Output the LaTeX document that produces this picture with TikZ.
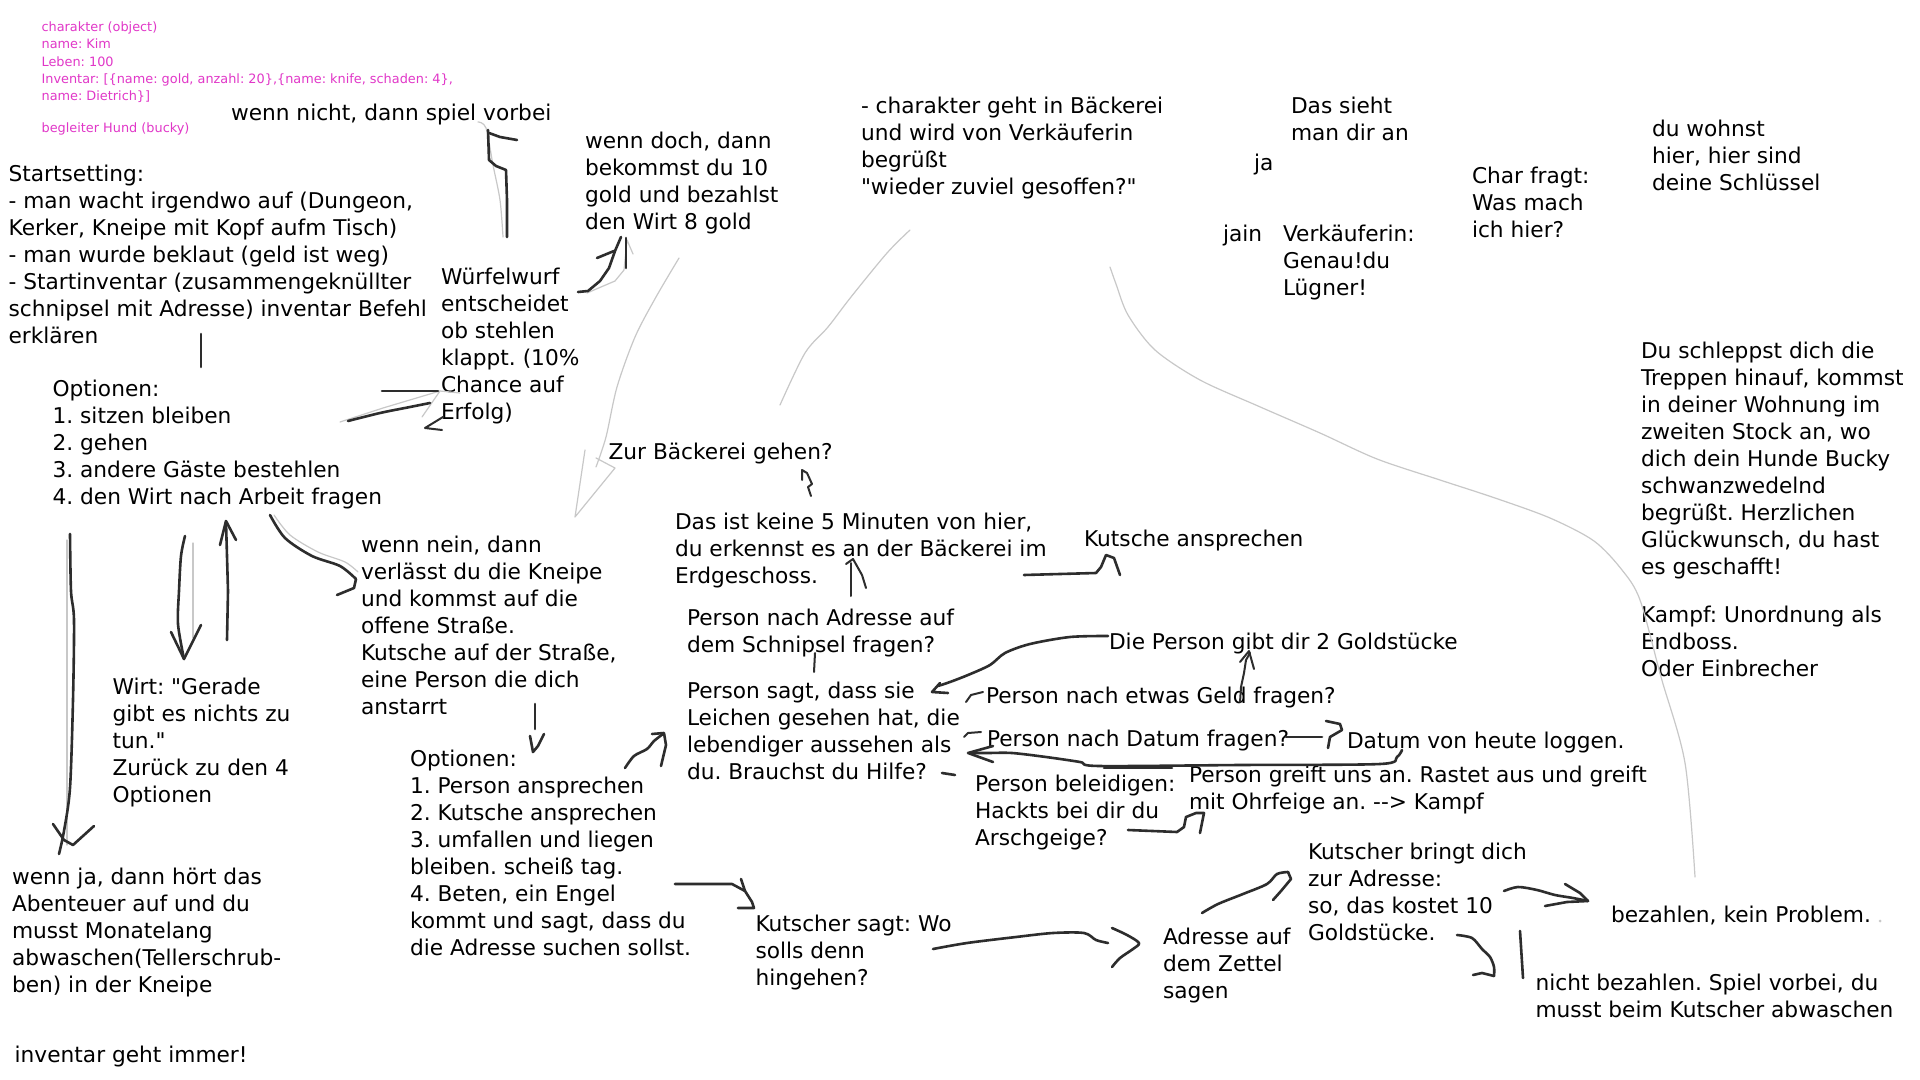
\documentclass[tikz,border=0pt]{standalone}
\usepackage{fontspec}
\newfontfamily\dejav{DejaVu Sans}
\definecolor{pinkc}{RGB}{225,55,200}
\definecolor{inkc}{RGB}{45,45,45}
\definecolor{faintc}{RGB}{200,200,200}
\newcommand\tfnt{\dejav\frenchspacing\fontsize{10.85pt}{13.5pt}\selectfont}
\newcommand\pfnt{\dejav\frenchspacing\fontsize{6.43pt}{8.7pt}\selectfont}
\tikzset{
  txt/.style={anchor=north west, inner sep=0pt, outer sep=0pt, align=left, font=\tfnt, execute at begin node=\strut},
  ptxt/.style={txt, font=\pfnt, text=pinkc},
  ink/.style={draw=inkc, line width=1.3pt, line cap=round, line join=round},
  thinink/.style={ink, line width=1pt},
  faint/.style={draw=faintc, line width=0.6pt, line cap=round, line join=round},
}
\begin{document}
\begin{tikzpicture}[x=0.5pt,y=-0.5pt]
\fill[white] (0,0) rectangle (1920,1080);
\useasboundingbox (0,0) rectangle (1920,1080);

% ---------- texts ----------
\node[ptxt] (obj) at (41.6,21.5) {charakter (object)\\name: Kim\\Leben: 100\\Inventar: [\{name: gold, anzahl: 20\},\{name: knife, schaden: 4\},\\name: Dietrich\}]};
\node[ptxt] (hund) at (41.6,120.3) {begleiter Hund (bucky)};

\node[txt] (vorbei) at (231,102) {wenn nicht, dann spiel vorbei};
\node[txt] (start) at (8.6,165.5) {Startsetting:\\- man wacht irgendwo auf (Dungeon,\\Kerker, Kneipe mit Kopf aufm Tisch)\\- man wurde beklaut (geld ist weg)\\- Startinventar (zusammengeknüllter\\schnipsel mit Adresse) inventar Befehl\\erklären};
\node[txt] (doch) at (585,132.5) {wenn doch, dann\\bekommst du 10\\gold und bezahlst\\den Wirt 8 gold};
\node[txt] (baeck) at (861,97.5) {- charakter geht in Bäckerei\\und wird von Verkäuferin\\begrüßt\\"wieder zuviel gesoffen?"};
\node[txt] (ja) at (1254,151.5) {ja};
\node[txt] (sieht) at (1291,97.5) {Das sieht\\man dir an};
\node[txt] (jain) at (1223,222.5) {jain};
\node[txt] (verk) at (1283,225.5) {Verkäuferin:\\Genau!du\\Lügner!};
\node[txt] (char) at (1472,167.5) {Char fragt:\\Was mach\\ich hier?};
\node[txt] (wohnst) at (1652,120.5) {du wohnst\\hier, hier sind\\deine Schlüssel};
\node[txt] (wurf) at (441,268.5) {Würfelwurf\\entscheidet\\ob stehlen\\klappt. (10\%\\Chance auf\\Erfolg)};
\node[txt] (opt1) at (52.6,380.5) {Optionen:\\1. sitzen bleiben\\2. gehen\\3. andere Gäste bestehlen\\4. den Wirt nach Arbeit fragen};
\node[txt] (zur) at (608.6,440.5) {Zur Bäckerei gehen?};
\node[txt] (fuenf) at (675,513.5) {Das ist keine 5 Minuten von hier,\\du erkennst es an der Bäckerei im\\Erdgeschoss.};
\node[txt] (kutsche) at (1084,527.5) {Kutsche ansprechen};
\node[txt] (ende) at (1641,342.5) {Du schleppst dich die\\Treppen hinauf, kommst\\in deiner Wohnung im\\zweiten Stock an, wo\\dich dein Hunde Bucky\\schwanzwedelnd\\begrüßt. Herzlichen\\Glückwunsch, du hast\\es geschafft!};
\node[txt] (kampf) at (1641,606.5) {Kampf: Unordnung als\\Endboss.\\Oder Einbrecher};
\node[txt] (nein) at (361,536.5) {wenn nein, dann\\verlässt du die Kneipe\\und kommst auf die\\offene Straße.\\Kutsche auf der Straße,\\eine Person die dich\\anstarrt};
\node[txt] (adr) at (687,609.5) {Person nach Adresse auf\\dem Schnipsel fragen?};
\node[txt] (gibt) at (1109,630.5) {Die Person gibt dir 2 Goldstücke};
\node[txt] (wirt) at (112.6,678.5) {Wirt: "Gerade\\gibt es nichts zu\\tun."\\Zurück zu den 4\\Optionen};
\node[txt] (sagt) at (687,682.5) {Person sagt, dass sie\\Leichen gesehen hat, die\\lebendiger aussehen als\\du. Brauchst du Hilfe?};
\node[txt] (geld) at (986,684.5) {Person nach etwas Geld fragen?};
\node[txt] (datum) at (987,727.5) {Person nach Datum fragen?};
\node[txt] (loggen) at (1347,729.5) {Datum von heute loggen.};
\node[txt] (opt2) at (410,750.5) {Optionen:\\1. Person ansprechen\\2. Kutsche ansprechen\\3. umfallen und liegen\\bleiben. scheiß tag.\\4. Beten, ein Engel\\kommt und sagt, dass du\\die Adresse suchen sollst.};
\node[txt] (beleid) at (975,775.5) {Person beleidigen:\\Hackts bei dir du\\Arschgeige?};
\node[txt] (greift) at (1189,766.5) {Person greift uns an. Rastet aus und greift\\mit Ohrfeige an. --> Kampf};
\node[txt] (bringt) at (1308,843.5) {Kutscher bringt dich\\zur Adresse:\\so, das kostet 10\\Goldstücke.};
\node[txt] (jaende) at (12,868.5) {wenn ja, dann hört das\\Abenteuer auf und du\\musst Monatelang\\abwaschen(Tellerschrub-\\ben) in der Kneipe};
\node[txt] (bez) at (1611,903.5) {bezahlen, kein Problem.};
\node[txt] (wo) at (755.5,915.5) {Kutscher sagt: Wo\\solls denn\\hingehen?};
\node[txt] (zettel) at (1163,928.5) {Adresse auf\\dem Zettel\\sagen};
\node[txt] (nicht) at (1535.5,974.5) {nicht bezahlen. Spiel vorbei, du\\musst beim Kutscher abwaschen};
\node[txt] (inv) at (14.7,1043.5) {inventar geht immer!};

% ---------- faint strokes ----------
\draw[faint] plot[smooth] coordinates {(478,122) (486,128) (493,165) (500,200) (503,237)};
\draw[faint] (340,422) -- (383,408) -- (440,391) -- (422,417);
\draw[faint] (440,391) -- (460,393);
\draw[faint] (587,293) -- (615,281) -- (624,270) -- (627,240) -- (633,254);
\draw[faint] plot[smooth] coordinates {(679,258) (656,297) (635,337) (617,387) (606,437) (596,467)};
\draw[faint] (585,450) -- (575,517) -- (615,468) -- (596,458);
\draw[faint] plot[smooth] coordinates {(910,230) (887,253) (851,297) (828,327) (805,353) (780,405)};
\draw[faint] plot[smooth] coordinates {(1110,267) (1116,284) (1128,315) (1155,350) (1200,380) (1258,406) (1320,433) (1377,459) (1440,480) (1495,498) (1550,518) (1594,541) (1622,570) (1640,600) (1661,677) (1685,763) (1695,877)};
\draw[faint] (67,540) -- (67,845);
\draw[faint] (193,543) -- (193,638);
\draw[faint] plot[smooth] coordinates {(274,515) (290,535) (318,552) (345,562) (358,572)};
\fill[faintc] (1880,921) circle (1.5);

% ---------- ink strokes ----------
\draw[ink] (488,130) -- (489,160) -- (496,166) -- (506,170) -- (507,200) -- (507,237);
\draw[ink] (489,133) -- (500,137) -- (517,140);
\draw[ink] (201,334) -- (201,367);
\draw[ink] (382,391) -- (438,391);
\draw[ink] plot[smooth] coordinates {(348,421) (380,413) (410,407) (430,403)};
\draw[thinink] (443,417) -- (425,428) -- (442,430);
\draw[ink] (578,292) -- (588,291) -- (600,281) -- (609,268) -- (615,251) -- (621,237);
\draw[ink] (597,258) -- (614,251);
\draw[ink] (626,238) -- (626,268);
\draw[ink] plot[smooth] coordinates {(70,534) (71,591) (74,620) (73,700) (70,788) (64,831) (59,854)};
\draw[ink] (53,824) -- (64,840) -- (73,845) -- (94,826);
\draw[ink] plot[smooth] coordinates {(185,536) (181,556) (179,591) (178,624) (184,659)};
\draw[ink] (171,632) -- (184,659) -- (201,625);
\draw[ink] (227,640) -- (228,591) -- (227,556) -- (226,522);
\draw[ink] (220,545) -- (226,521) -- (236,540);
\draw[ink] plot[smooth] coordinates {(270,515) (285,538) (312,556) (340,566) (356,579)};
\draw[ink] (356,579) -- (354,588) -- (337,595);
\draw[ink] (535,704) -- (535,729);
\draw[ink] (530,736) -- (533,752) -- (538,746) -- (544,734);
\draw[ink] plot[smooth] coordinates {(625,768) (634,756) (647,749) (654,741) (663,734)};
\draw[ink] (652,734) -- (664,733) -- (666,745) -- (661,766);
\draw[ink] (675,884) -- (732,884) -- (745,891) -- (752,902) -- (754,908) -- (738,908);
\draw[ink] (741,879) -- (745,891);
\draw[ink] plot[smooth] coordinates {(933,949) (967,943) (1016,937) (1053,933) (1084,933) (1096,940) (1108,943)};
\draw[ink] plot[smooth] coordinates {(1112,928) (1127,935) (1139,943) (1133,949) (1120,958) (1112,967)};
\draw[ink] plot[smooth] coordinates {(1202,913) (1218,904) (1243,894) (1267,884) (1277,874) (1288,872)};
\draw[ink] (1288,872) -- (1291,879) -- (1281,891) -- (1273,900);
\draw[ink] plot[smooth] coordinates {(1504,891) (1518,887) (1537,890) (1555,895) (1573,898) (1588,901)};
\draw[ink] (1588,901) -- (1567,902) -- (1545,906);
\draw[ink] (1565,884) -- (1580,893) -- (1588,901);
\draw[ink] plot[smooth] coordinates {(1457,935) (1472,938) (1482,949) (1490,957) (1494,967) (1494,976)};
\draw[ink] (1494,976) -- (1482,973) -- (1473,975);
\draw[ink] (1520,931) -- (1523,978);
\draw[thinink] (802,480) -- (802,470) -- (807,473) -- (812,484) -- (808,487) -- (811,496);
\draw[thinink] (851,563) -- (851,596);
\draw[thinink] (846,564) -- (853,559) -- (862,575) -- (866,588);
\draw[ink] (1024,575) -- (1096,573) -- (1101,567) -- (1106,555) -- (1114,558) -- (1120,575);
\draw[thinink] (815,653) -- (814,672);
\draw[ink] plot[smooth] coordinates {(1108,636) (1070,637) (1030,644) (1005,653) (990,665) (968,675) (950,682) (938,686)};
\draw[ink] (940,683) -- (932,692) -- (948,693);
\draw[thinink] (1240,702) -- (1241,687) -- (1244,673) -- (1246,660) -- (1250,653);
\draw[thinink] (1240,662) -- (1249,651) -- (1254,669);
\draw[thinink] (966,702) -- (971,695) -- (983,692);
\draw[thinink] (964,737) -- (968,733) -- (981,732);
\draw[ink] (1286,737) -- (1322,737);
\draw[ink] (1326,721) -- (1340,724) -- (1342,730) -- (1330,737) -- (1328,748);
\draw[ink] plot[smooth] coordinates {(1402,750) (1397,757) (1380,764) (1240,765) (1099,766) (1080,762) (1046,757) (1012,753) (988,753) (973,753)};
\draw[ink] (993,746) -- (968,753) -- (993,762);
\draw[ink] (1104,768) -- (1172,768);
\draw[ink] (942,773) -- (955,775);
\draw[ink] (1128,830) -- (1177,832) -- (1184,827) -- (1186,817) -- (1196,813) -- (1204,813) -- (1200,833);
\end{tikzpicture}
\end{document}
